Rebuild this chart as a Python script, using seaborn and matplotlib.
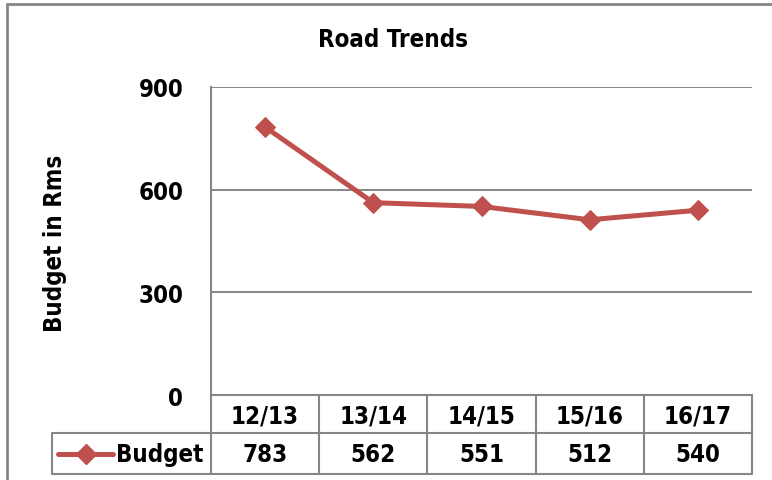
import matplotlib
matplotlib.use("Agg")
import matplotlib.pyplot as plt
import matplotlib.lines as mlines
import seaborn as sns
import pandas as pd

categories = ["12/13", "13/14", "14/15", "15/16", "16/17"]
budget = [783, 562, 551, 512, 540]
series_name = "Budget"
yticks = [0, 300, 600, 900]
title = "Road Trends"
ylabel = "Budget in Rms"

sns.set_theme(style="white")
plt.rcParams["font.family"] = ["DejaVu Sans"]
plt.rcParams["font.stretch"] = "condensed"
plt.rcParams["text.color"] = "black"
plt.rcParams["ytick.color"] = "black"

FS = 17.3
TXT = dict(fontsize=FS, fontweight="bold", fontstretch="condensed", color="black")

W, H = 772, 481
fig = plt.figure(figsize=(W / 100, H / 100), dpi=100)

def fx(px):
    return px / W

def fy(py):
    return 1 - py / H

L, R, T, B = 211, 752, 88, 396
ax = fig.add_axes([fx(L), fy(B), fx(R) - fx(L), fy(T) - fy(B)])

df = pd.DataFrame({"year": categories, "value": budget})
red = "#C0504D"
grid = "#868686"
sns.lineplot(data=df, x="year", y="value", ax=ax, color=red, linewidth=3.6,
             marker="D", markersize=10.5, markeredgecolor=red, markerfacecolor=red,
             sort=False)
ax.set_xlim(-0.5, len(categories) - 0.5)
ax.set_ylim(0, 900)
ax.set_yticks(yticks)
ax.set_yticklabels([str(v) for v in yticks], **TXT)
ax.tick_params(axis="y", length=0, pad=20)
ax.set_xticks([])
ax.set_xlabel("")
ax.set_ylabel("")
for s in ["top", "right", "bottom"]:
    ax.spines[s].set_visible(False)
ax.spines["left"].set_color(grid)
ax.spines["left"].set_linewidth(1.5)
for v in yticks[1:]:
    ax.axhline(v, color=grid, linewidth=1.4, zorder=0)

# title and y label
fig.text(fx(393), fy(40), title, ha="center", va="center", **TXT)
fig.text(fx(55), fy(243), ylabel, ha="center", va="center", rotation=90, **TXT)

def fline(x0, y0, x1, y1, lw=1.5, color=grid):
    fig.add_artist(mlines.Line2D([fx(x0), fx(x1)], [fy(y0), fy(y1)], color=color,
                                 linewidth=lw, transform=fig.transFigure))

# outer border
fline(7, 5, 7, 481, lw=2)
fline(7, 5, 772, 5, lw=2)

# data table
row1, row2, row3 = 396, 434, 475
colw = (R - L) / len(categories)
fline(L, row1, R, row1)
fline(52, row2, R, row2)
fline(52, row3, R, row3)
fline(L, row1, L, row3)
fline(52, row2, 52, row3)
for i in range(1, len(categories) + 1):
    x = L + i * colw
    fline(x, row1, x, row3)
for i, (c, v) in enumerate(zip(categories, budget)):
    cx = L + (i + 0.5) * colw
    fig.text(fx(cx), fy((row1 + row2) / 2 + 1), c, ha="center", va="center", **TXT)
    fig.text(fx(cx), fy((row2 + row3) / 2 + 1), str(v), ha="center", va="center", **TXT)

# legend key
ky = (row2 + row3) / 2
fig.add_artist(mlines.Line2D([fx(58), fx(113)], [fy(ky), fy(ky)], color=red, linewidth=3.6,
                             transform=fig.transFigure))
fig.add_artist(mlines.Line2D([fx(86)], [fy(ky)], color=red, marker="D", markersize=10.5,
                             linestyle="none", transform=fig.transFigure))
fig.text(fx(116), fy(ky + 1), series_name, ha="left", va="center", **TXT)

fig.savefig("out.png", dpi=100)
